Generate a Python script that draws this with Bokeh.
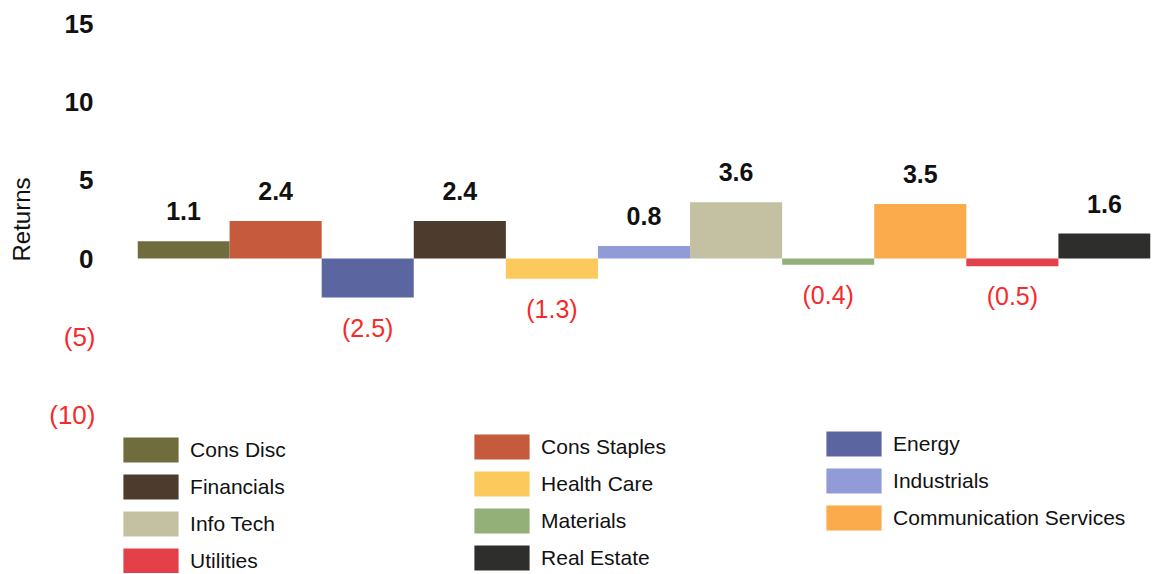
from bokeh.plotting import figure
from bokeh.models import (ColumnDataSource, Legend, LegendItem, FixedTicker,
                          FactorRange, Range1d, LinearAxis)
from bokeh.core.properties import value
from bokeh.embed import file_html
from bokeh.resources import INLINE

# ---- data ----
sectors = ["Cons Disc", "Cons Staples", "Energy", "Financials", "Health Care",
           "Industrials", "Info Tech", "Materials", "Communication Services",
           "Utilities", "Real Estate"]
returns = [1.1, 2.4, -2.5, 2.4, -1.3, 0.8, 3.6, -0.4, 3.5, -0.5, 1.6]
colors = ["#6f6c3e", "#c65a3c", "#5b66a0", "#4d3b2d", "#fcca5c",
          "#909bd8", "#c4c1a3", "#93b078", "#fbab4c", "#e3404a", "#2e2e2c"]
pos_ticks = [0, 5, 10, 15]
neg_ticks = [-5, -10]
neg_tick_labels = ["(5)", "(10)"]

FONT = "Liberation Sans"
RED = "#f52a2a"
BLACK = "#111111"

def fmt(v):
    return f"{v:.1f}" if v >= 0 else f"({abs(v):.1f})"

src = ColumnDataSource(dict(
    sector=sectors,
    top=returns,
    color=colors,
    label=[fmt(v) for v in returns],
    label_color=[BLACK if v >= 0 else RED for v in returns],
    label_style=["bold" if v >= 0 else "normal" for v in returns],
    yoff=[-30 if v >= 0 else 30 for v in returns],
))

# ---- main chart ----
p = figure(width=1151, height=429, output_backend="svg", toolbar_location=None,
           x_range=FactorRange(factors=sectors), y_range=Range1d(-10.96, 15.96),
           x_axis_type=None,
           min_border_left=137, min_border_right=1, min_border_top=9, min_border_bottom=0)
p.outline_line_color = None
p.xgrid.visible = False
p.ygrid.visible = False

p.vbar(x="sector", top="top", bottom=0, width=1.0, fill_color="color",
       line_color=None, source=src)

p.text(x="sector", y="top", text="label", text_color="label_color", y_offset="yoff",
       text_font_style="label_style",
       text_align="center", text_baseline="middle", text_font=value(FONT),
       text_font_size="25px", source=src)

def style_axis(ax):
    ax.axis_line_color = None
    ax.major_tick_line_color = None
    ax.minor_tick_line_color = None
    ax.major_tick_out = 0
    ax.major_tick_in = 0
    ax.major_label_text_font = FONT
    ax.major_label_text_font_size = "26px"

ax_pos = p.yaxis[0]
ax_pos.ticker = FixedTicker(ticks=pos_ticks)
style_axis(ax_pos)
ax_pos.major_label_standoff = 44
ax_pos.major_label_text_font_style = "bold"
ax_pos.major_label_text_color = BLACK

ax_neg = LinearAxis(ticker=FixedTicker(ticks=neg_ticks),
                    major_label_overrides={t: s for t, s in zip(neg_ticks, neg_tick_labels)})
style_axis(ax_neg)
ax_neg.major_label_standoff = -34
ax_neg.major_label_text_color = RED
ax_neg.axis_label = "Returns"
ax_neg.axis_label_text_font = FONT
ax_neg.axis_label_text_font_size = "24px"
ax_neg.axis_label_text_font_style = "normal"
ax_neg.axis_label_text_color = BLACK
ax_neg.axis_label_standoff = 11
p.add_layout(ax_neg, "left")

# ---- legend strip ----
q = figure(width=1151, height=144, output_backend="svg", toolbar_location=None,
           x_range=FactorRange(factors=sectors), y_range=Range1d(100, 101),
           x_axis_type=None, y_axis_type=None, min_border=0)
q.outline_line_color = None
lr = q.vbar(x="sector", top="top", bottom=0, width=1.0, fill_color="color",
            line_color=None, source=src)

col_locs = [(116.1, -3.4), (467.1, -0.4), (819.1, 39.6)]
for c in range(3):
    items = [LegendItem(label=sectors[i], renderers=[lr], index=i)
             for i in range(c, len(sectors), 3)]
    lg = Legend(items=items, location=col_locs[c], orientation="vertical",
                glyph_width=69, glyph_height=31, label_height=25, spacing=6,
                label_standoff=5, padding=0, margin=0, border_line_color=None,
                background_fill_alpha=0, label_text_font=FONT,
                label_text_font_size="21px", label_text_color=BLACK)
    q.add_layout(lg, "center")

open("out.html", "w").write(file_html([p, q], INLINE))
